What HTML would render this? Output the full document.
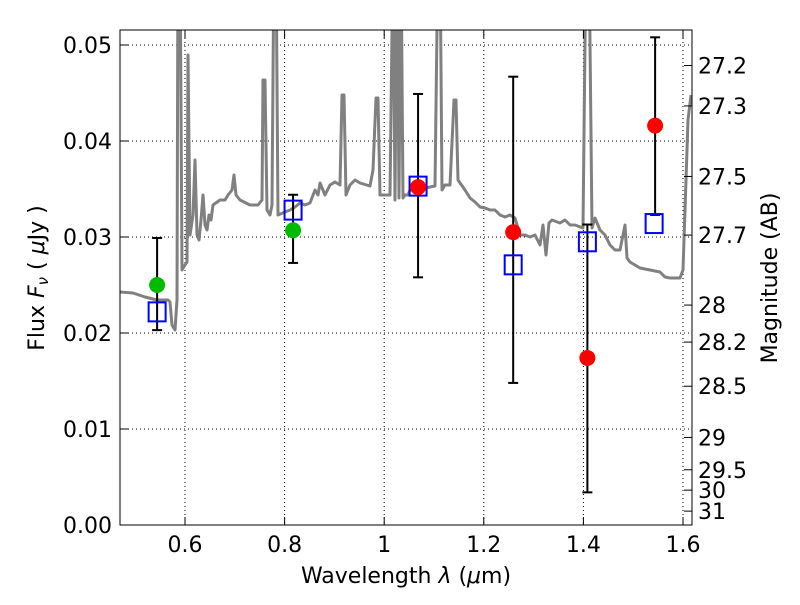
<!DOCTYPE html>
<html><head><meta charset="utf-8"><style>
body{margin:0;background:#fff}
svg text{font-family:"DejaVu Sans","Liberation Sans",sans-serif;fill:#000}
</style></head><body>
<svg id="chart" width="800" height="600" xmlns="http://www.w3.org/2000/svg">
<defs><clipPath id="clip"><rect x="120" y="30" width="572" height="495"/></clipPath></defs>
<rect x="0" y="0" width="800" height="600" fill="#fff"/>
<g id="grid"></g>
<g id="spec" clip-path="url(#clip)"></g>
<g id="marks" clip-path="url(#clip)"></g>
<rect x="120" y="30" width="572" height="495" fill="none" stroke="#000" stroke-width="1"/>
<g id="axes"></g>
<text x="406" y="583" font-size="22" text-anchor="middle">Wavelength  <tspan font-style="italic">λ</tspan> (<tspan font-style="italic">μ</tspan>m)</text>
<text transform="translate(44,278) rotate(-90)" font-size="22" text-anchor="middle">Flux  <tspan font-style="italic">F</tspan><tspan font-style="italic" font-size="15" dy="4">ν</tspan><tspan dy="-4">  ( </tspan><tspan font-style="italic">μ</tspan>Jy )</text>
<text transform="translate(777,278) rotate(-90)" font-size="22" text-anchor="middle">Magnitude (AB)</text>
</svg>
<script>
const xTicks=[0.6,0.8,1.0,1.2,1.4,1.6];
const xTickLabels=["0.6","0.8","1","1.2","1.4","1.6"];
const yTicks=[0,0.01,0.02,0.03,0.04,0.05];
const yTickLabels=["0.00","0.01","0.02","0.03","0.04","0.05"];
const magTicks=[27.2,27.3,27.5,27.7,28,28.2,28.5,29,29.5,30,31];
const magTickLabels=["27.2","27.3","27.5","27.7","28","28.2","28.5","29","29.5","30","31"];
const specX=[120,133,145,157,168,170,172,175,177,178,180,182,185,187,188,190,193,195,197,199,201,203,205,207,209,211,213,220,225,228,232,234,236,240,250,258,262,263,265,267,270,272,274,276,278,285,290,295,300,305,310,315,318,320,325,330,335,340,342,344,346,350,355,360,370,373,376,378,380,385,390,393,395,397,399,401,403,405,408,410,415,420,425,435,438,440,442,445,450,454,456,458,465,470,475,480,485,490,495,500,505,510,515,520,525,530,535,540,543,546,549,552,560,565,570,575,583,586,589,592,595,600,605,610,615,620,625,627,630,640,650,660,665,670,680,683,688,691];
const specY=[292,293,297,300,300,302,325,330,300,0,0,270,265,262,55,235,215,160,235,240,220,195,225,230,215,220,205,200,200,195,190,175,195,200,205,205,200,80,80,210,215,205,0,0,215,212,210,207,203,205,203,190,195,183,195,185,182,185,95,95,195,185,180,183,186,170,98,98,195,195,195,0,200,0,198,0,198,195,195,190,190,187,188,186,0,0,190,185,185,100,100,180,190,198,202,207,208,210,210,215,217,215,218,235,235,237,235,245,225,255,223,220,223,220,225,225,228,0,0,228,218,230,235,245,250,250,225,258,262,268,270,272,277,278,278,270,120,95];
const ptLam=[0.544,0.817,1.068,1.259,1.408,1.544];
const ptFlux=[0.0250,0.0307,0.0352,0.0305,0.0174,0.0416];
const ptColor=["#00bb00","#00bb00","#ff0000","#ff0000","#ff0000","#ff0000"];
const errLo=[0.0203,0.0273,0.0258,0.0148,0.0034,0.0323];
const errHi=[0.0299,0.0344,0.0449,0.0467,0.0313,0.0508];
const modLam=[0.544,0.817,1.068,1.259,1.408,1.542];
const modFlux=[0.0222,0.0328,0.0353,0.0271,0.0295,0.0314];
const NS="http://www.w3.org/2000/svg";
const X=l=>185+(l-0.6)*498;
const Y=f=>525-f*9600;
const pxToLam=px=>0.6+(px-185)/498;
const pxToFlux=py=>(525-py)/9600;
function mk(t,a,p){const e=document.createElementNS(NS,t);for(const k in a)e.setAttribute(k,a[k]);p.appendChild(e);return e;}
const grid=document.getElementById('grid'),axes=document.getElementById('axes');
xTicks.forEach((t,i)=>{const x=X(t);
 const g=mk('line',{x1:x,x2:x,y1:30,y2:525,stroke:'#000','stroke-dasharray':'1,3','stroke-width':1},grid);
 
 mk('line',{x1:x,x2:x,y1:525,y2:517,stroke:'#000'},axes);mk('line',{x1:x,x2:x,y1:30,y2:38,stroke:'#000'},axes);
 const tx=mk('text',{x:x,y:552,'font-size':22,'text-anchor':'middle'},axes);tx.textContent=xTickLabels[i];
 });
yTicks.forEach((t,i)=>{const y=Y(t);
 const g=mk('line',{x1:120,x2:692,y1:y,y2:y,stroke:'#000','stroke-dasharray':'1,3','stroke-width':1},grid);
 
 mk('line',{x1:120,x2:128,y1:y,y2:y,stroke:'#000'},axes);
 const tx=mk('text',{x:112,y:y+8,'font-size':22,'text-anchor':'end'},axes);tx.textContent=yTickLabels[i];
 });
magTicks.forEach((m,i)=>{const y=Y(Math.pow(10,(23.9-m)/2.5));
 mk('line',{x1:684,x2:692,y1:y,y2:y,stroke:'#000'},axes);
 const tx=mk('text',{x:698,y:y+8,'font-size':22},axes);tx.textContent=magTickLabels[i];
 });
const spec=document.getElementById('spec');
let d='';
for(let i=0;i<specX.length;i++){const lam=pxToLam(specX[i]);const f=specY[i]===0?0.06:pxToFlux(specY[i]);d+=(i?'L':'M')+X(lam).toFixed(1)+','+Y(f).toFixed(1);}
const sp=mk('path',{d:d,fill:'none',stroke:'#808080','stroke-width':3,'stroke-linejoin':'round'},spec);

const marks=document.getElementById('marks');
ptLam.forEach((l,i)=>{const x=X(l);
 const eb=mk('g',{},marks);
 
 mk('line',{x1:x,x2:x,y1:Y(errLo[i]),y2:Y(errHi[i]),stroke:'#000','stroke-width':2},eb);
 mk('line',{x1:x-5,x2:x+5,y1:Y(errLo[i]),y2:Y(errLo[i]),stroke:'#000','stroke-width':2},eb);
 mk('line',{x1:x-5,x2:x+5,y1:Y(errHi[i]),y2:Y(errHi[i]),stroke:'#000','stroke-width':2},eb);});
modLam.forEach((l,i)=>{const s=mk('rect',{x:X(l)-8.5,y:Y(modFlux[i])-9.5,width:17,height:19,fill:'none',stroke:'#0000ff','stroke-width':2},marks);
 });
ptLam.forEach((l,i)=>{const c=mk('circle',{cx:X(l),cy:Y(ptFlux[i]),r:8,fill:ptColor[i]},marks);
 });
</script>
</body></html>
